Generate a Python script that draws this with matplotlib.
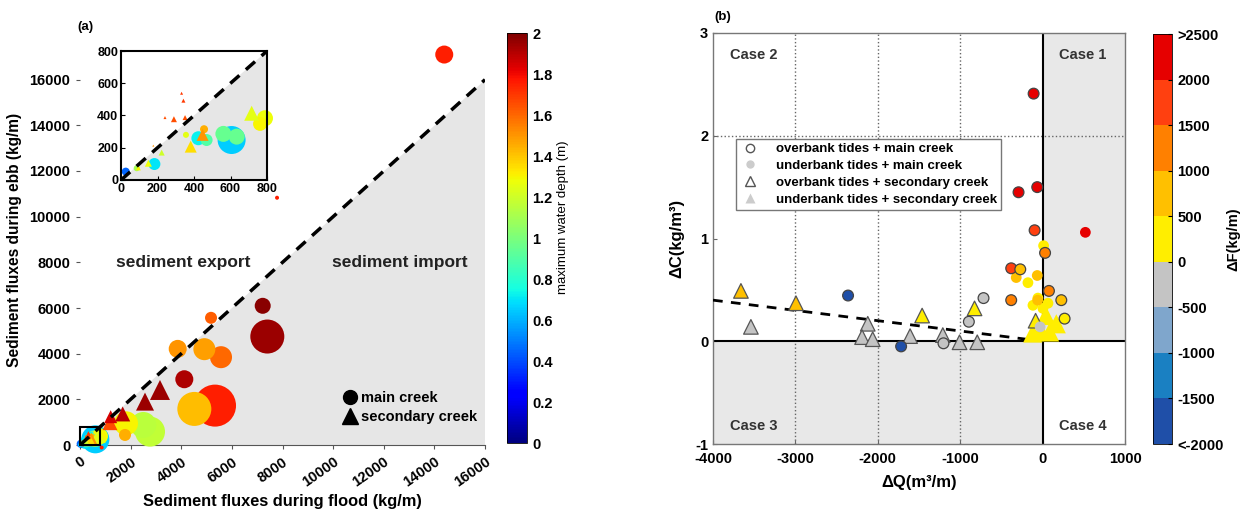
import numpy as np
import matplotlib
matplotlib.use('Agg')
import matplotlib.pyplot as plt
from matplotlib.colors import ListedColormap, BoundaryNorm, Normalize
from matplotlib.cm import ScalarMappable
from matplotlib.lines import Line2D
from matplotlib.patches import Rectangle

plt.rcParams['font.family'] = ['Liberation Sans', 'DejaVu Sans']
plt.rcParams['font.weight'] = 'bold'
plt.rcParams['axes.labelweight'] = 'bold'
plt.rcParams['axes.unicode_minus'] = False

# ---------------- panel (a) data ----------------
# main creek (circles): flux during flood, flux during ebb, max water depth, bubble radius
main_flood = [14390, 7218, 7400, 5176, 3860, 4913, 5571, 4121, 5334, 4517, 2502, 2766, 1818, 1778,
              789, 762, 561, 634, 606, 424, 469, 455, 356, 183, 86, 26, 5, 855]
main_ebb = [17100, 6096, 4750, 5570, 4210, 4197, 3846, 2880, 1725, 1580, 877, 585, 950, 440,
            383, 348, 286, 269, 248, 259, 248, 315, 280, 99, 73, 52, 5, -110]
main_depth = [1.75, 1.98, 1.95, 1.62, 1.50, 1.48, 1.60, 1.92, 1.75, 1.42, 1.15, 1.17, 1.30, 1.45,
              1.28, 1.30, 0.95, 0.95, 0.65, 0.72, 0.90, 1.45, 1.25, 0.70, 1.10, 0.45, 0.70, 1.75]
main_r = [9, 8, 17, 6, 9, 11, 11, 9, 21, 17, 13, 15, 12, 6,
          8, 7, 8, 8, 14, 7, 6, 4, 3, 6, 3, 4, 2, 2]

# secondary creek (triangles)
sec_flood = [3160, 2568, 1687, 1212, 1185, 332, 342, 241, 290, 351, 177, 223, 716, 447, 382, 150, 95]
sec_ebb = [2410, 1900, 1360, 1240, 978, 538, 492, 387, 377, 387, 213, 170, 414, 280, 207, 104, 75]
sec_depth = [1.95, 1.95, 1.90, 1.85, 1.65, 1.70, 1.70, 1.65, 1.65, 1.65, 1.50, 1.20, 1.25, 1.50, 1.35, 1.28, 1.30]
sec_w = [20, 18, 15, 13, 15, 3, 4, 3, 6, 5, 2, 6, 15, 12, 12, 7, 5]

depth_ticks = [0, 0.2, 0.4, 0.6, 0.8, 1, 1.2, 1.4, 1.6, 1.8, 2]
flux_ticks = [0, 2000, 4000, 6000, 8000, 10000, 12000, 14000, 16000]
inset_ticks = [0, 200, 400, 600, 800]

# ---------------- panel (b) data ----------------
# overbank tides + main creek
om_dq = [-109, -292, -65, -97, 30, -381, -271, -381, 77, 227, 267, -2361, -1717, -717, -895, -1203]
om_dc = [2.41, 1.45, 1.50, 1.08, 0.86, 0.71, 0.70, 0.40, 0.49, 0.40, 0.22, 0.445, -0.05, 0.42, 0.19, -0.02]
om_df = [2200, 2200, 2200, 1700, 1200, 1700, 700, 1200, 1200, 700, 250, -1800, -1700, -250, -250, -250]
# underbank tides + main creek
um_dq = [519, 12, -320, -178, -65, -117, -57, 4, 65, -60, -30]
um_dc = [1.06, 0.93, 0.62, 0.57, 0.64, 0.35, 0.42, 0.32, 0.37, 0.40, 0.14]
um_df = [2200, 250, 700, 250, 700, 250, 250, 250, 250, 700, -250]
# overbank tides + secondary creek
os_dq = [-3661, -2993, -1462, -826, -85, -3540, -2122, -2191, -2062, -1608, -1211, -1008, -793]
os_dc = [0.49, 0.37, 0.25, 0.32, 0.20, 0.14, 0.17, 0.04, 0.02, 0.05, 0.06, -0.01, -0.01]
os_df = [700, 700, 250, 250, 250, -250, -250, -250, -250, -250, -250, -250, -250]
# underbank tides + secondary creek
us_dq = [166, 85, -120, -20, 40]
us_dc = [0.17, 0.09, 0.08, 0.10, 0.25]
us_df = [250, 250, 250, 250, 250]

trend_dq = [-4000, -100]
trend_dc = [0.40, 0.01]

df_bounds = [-2000, -1500, -1000, -500, 0, 500, 1000, 1500, 2000, 2500]
df_colors = ['#1f4fa8', '#1a80c2', '#7fa6cc', '#c4c4c4', '#ffee00',
             '#ffc000', '#ff8000', '#ff4010', '#e60000']
df_labels = ['<-2000', '-1500', '-1000', '-500', '0', '500', '1000', '1500', '2000', '>2500']

W, H = 1255, 511
fig = plt.figure(figsize=(W / 100, H / 100), dpi=100)


def fr(x0, y_top, w, h):
    return [x0 / W, (H - y_top - h) / H, w / W, h / H]


cmap_a = plt.get_cmap('jet')
norm_a = Normalize(0, 2)


def px2s(d):
    return (d * 0.72) ** 2


def draw_fluxes(ax, lim):
    # only marks with flood and ebb below lim, drawn unclipped
    ax.fill([0, 16000, 16000], [0, 0, 16000], color='#e6e6e6', lw=0, zorder=0)
    mf, me = np.array(main_flood), np.array(main_ebb)
    keep = [i for i in np.argsort(main_r)[::-1] if mf[i] < lim and me[i] < lim]
    ax.scatter(mf[keep], me[keep], s=[px2s(2 * main_r[i]) for i in keep],
               c=np.array(main_depth)[keep], cmap=cmap_a, norm=norm_a,
               marker='o', lw=0, zorder=3, clip_on=False)
    sf, se = np.array(sec_flood), np.array(sec_ebb)
    keep = [i for i in np.argsort(sec_w)[::-1] if sf[i] < lim and se[i] < lim]
    ax.scatter(sf[keep], se[keep], s=[px2s(sec_w[i]) for i in keep],
               c=np.array(sec_depth)[keep], cmap=cmap_a, norm=norm_a,
               marker='^', lw=0, zorder=3, clip_on=False)
    ax.plot([0, 16000], [0, 16000], color='k', ls='--', lw=2.5, dashes=(3.5, 2.5), zorder=4)


# ---- (a) main
axA = fig.add_axes(fr(80, 34, 405, 411))
draw_fluxes(axA, 1e9)
axA.set_xlim(0, 16000)
axA.set_ylim(0, 18000)
axA.set_xticks(flux_ticks)
axA.set_yticks(flux_ticks)
axA.set_xticklabels([str(t) for t in flux_ticks], rotation=35, ha='right',
                    rotation_mode='anchor')
axA.tick_params(labelsize=10.5, length=3, color='#555555', pad=4)
for s in ['top', 'right', 'left']:
    axA.spines[s].set_visible(False)
axA.spines['bottom'].set_color('#555555')
axA.add_patch(Rectangle((0, 0), 800, 800, fill=False, ec='k', lw=1.5, zorder=5, clip_on=False))
axA.text(4070, 7980, 'sediment export', ha='center', va='center', fontsize=12.5, color='#222222')
axA.text(12640, 7980, 'sediment import', ha='center', va='center', fontsize=12.5, color='#222222')
axA.set_xlabel('Sediment fluxes during flood (kg/m)', fontsize=11.8, labelpad=3)
axA.set_ylabel('Sediment fluxes during ebb (kg/m)', fontsize=11.2, labelpad=5)
leg_a = [Line2D([], [], marker='o', color='k', ls='none', ms=10, label='main creek'),
         Line2D([], [], marker='^', color='k', ls='none', ms=11, label='secondary creek')]
axA.legend(handles=leg_a, loc='upper left', bbox_to_anchor=(0.63, 0.15), frameon=False,
           fontsize=10.5, handlelength=1.0, handletextpad=0.3, labelspacing=0.35, borderpad=0)
fig.text(85 / W, 1 - 27 / H, '(a)', fontsize=9.5, ha='center', va='center')

# ---- (a) inset
axI = fig.add_axes(fr(121, 51, 146, 129))
draw_fluxes(axI, 1000)
axI.set_xlim(0, 800)
axI.set_ylim(0, 800)
axI.set_xticks(inset_ticks)
axI.set_yticks(inset_ticks)
axI.tick_params(labelsize=9, direction='in', length=3, pad=2)
for s in axI.spines.values():
    s.set_linewidth(1.5)
    s.set_zorder(6)

# ---- (a) colorbar
caxA = fig.add_axes(fr(507, 33, 20, 410))
cbA = fig.colorbar(ScalarMappable(norm=norm_a, cmap=cmap_a), cax=caxA, ticks=depth_ticks)
cbA.ax.set_yticklabels(['%g' % t for t in depth_ticks])
cbA.ax.tick_params(labelsize=10.5, length=0, pad=4)
cbA.outline.set_linewidth(0.6)
cbA.set_label('maximum water depth (m)', fontsize=9.5, fontweight='normal')
cbA.ax.yaxis.set_label_coords(2.5, 0.55)

# ---- (b)
cmap_b = ListedColormap(df_colors)
norm_b = BoundaryNorm(df_bounds, cmap_b.N)
axB = fig.add_axes(fr(713, 33, 412, 411))
axB.set_xlim(-4000, 1000)
axB.set_ylim(-1, 3)
axB.add_patch(Rectangle((0, 0), 1000, 3, color='#e8e8e8', lw=0, zorder=0))
axB.add_patch(Rectangle((-4000, -1), 4000, 1, color='#e8e8e8', lw=0, zorder=0))
for xg in [-3000, -2000, -1000]:
    axB.axvline(xg, color='#666666', ls=':', lw=1, zorder=1)
axB.axhline(2, color='#666666', ls=':', lw=1, zorder=1)
axB.axvline(0, color='k', lw=1.5, zorder=2)
axB.axhline(0, color='k', lw=1.5, zorder=2)
axB.plot(trend_dq, trend_dc, color='k', ls='--', lw=2, dashes=(3.5, 3), zorder=3)

axB.scatter(us_dq, us_dc, c=us_df, cmap=cmap_b, norm=norm_b, marker='^', s=190, lw=0, zorder=4)
axB.scatter(os_dq, os_dc, c=os_df, cmap=cmap_b, norm=norm_b, marker='^', s=110,
            edgecolors='#555555', linewidths=0.9, zorder=5)
axB.scatter(um_dq, um_dc, c=um_df, cmap=cmap_b, norm=norm_b, marker='o', s=60, lw=0, zorder=5)
axB.scatter(om_dq, om_dc, c=om_df, cmap=cmap_b, norm=norm_b, marker='o', s=60,
            edgecolors='#444444', linewidths=0.9, zorder=6)

axB.set_xticks([-4000, -3000, -2000, -1000, 0, 1000])
axB.set_yticks([-1, 0, 1, 2, 3])
axB.tick_params(labelsize=10.5, direction='in', length=3, color='#666666')
axB.tick_params(axis='x', pad=6)
for s in axB.spines.values():
    s.set_color('#777777')
    s.set_linewidth(1)
axB.set_xlabel('ΔQ(m³/m)', fontsize=12, labelpad=6)
axB.set_ylabel('ΔC(kg/m³)', fontsize=12, labelpad=8)
for xt, yt, lab in [(-3511, 2.79, 'Case 2'), (486, 2.79, 'Case 1'),
                    (-3511, -0.82, 'Case 3'), (486, -0.82, 'Case 4')]:
    axB.text(xt, yt, lab, ha='center', va='center', fontsize=10.5, color='#333333')

leg_b = [Line2D([], [], marker='o', mfc='white', mec='#555555', ls='none', ms=6,
                label='overbank tides + main creek'),
         Line2D([], [], marker='o', mfc='#cccccc', mec='none', ls='none', ms=6,
                label='underbank tides + main creek'),
         Line2D([], [], marker='^', mfc='white', mec='#555555', ls='none', ms=7,
                label='overbank tides + secondary creek'),
         Line2D([], [], marker='^', mfc='#cccccc', mec='none', ls='none', ms=7,
                label='underbank tides + secondary creek')]
lg = axB.legend(handles=leg_b, loc='upper left', bbox_to_anchor=(0.056, 0.742), fontsize=9.5,
                fancybox=False, framealpha=1, edgecolor='#777777', handlelength=1.5,
                handletextpad=1.2, labelspacing=0.35, borderpad=0.3, borderaxespad=0)
lg.get_frame().set_linewidth(1)
fig.text(723 / W, 1 - 17 / H, '(b)', fontsize=9.5, ha='center', va='center')

caxB = fig.add_axes(fr(1153, 34, 19, 410))
cbB = fig.colorbar(ScalarMappable(norm=norm_b, cmap=cmap_b), cax=caxB, ticks=df_bounds)
cbB.ax.set_yticklabels(df_labels)
cbB.ax.tick_params(labelsize=10.5, length=3, direction='in', pad=4)
cbB.outline.set_linewidth(0.6)
cbB.set_label('ΔF(kg/m)', fontsize=10.5)
cbB.ax.yaxis.set_label_coords(3.85, 0.5)

fig.savefig('out.png', dpi=100)
